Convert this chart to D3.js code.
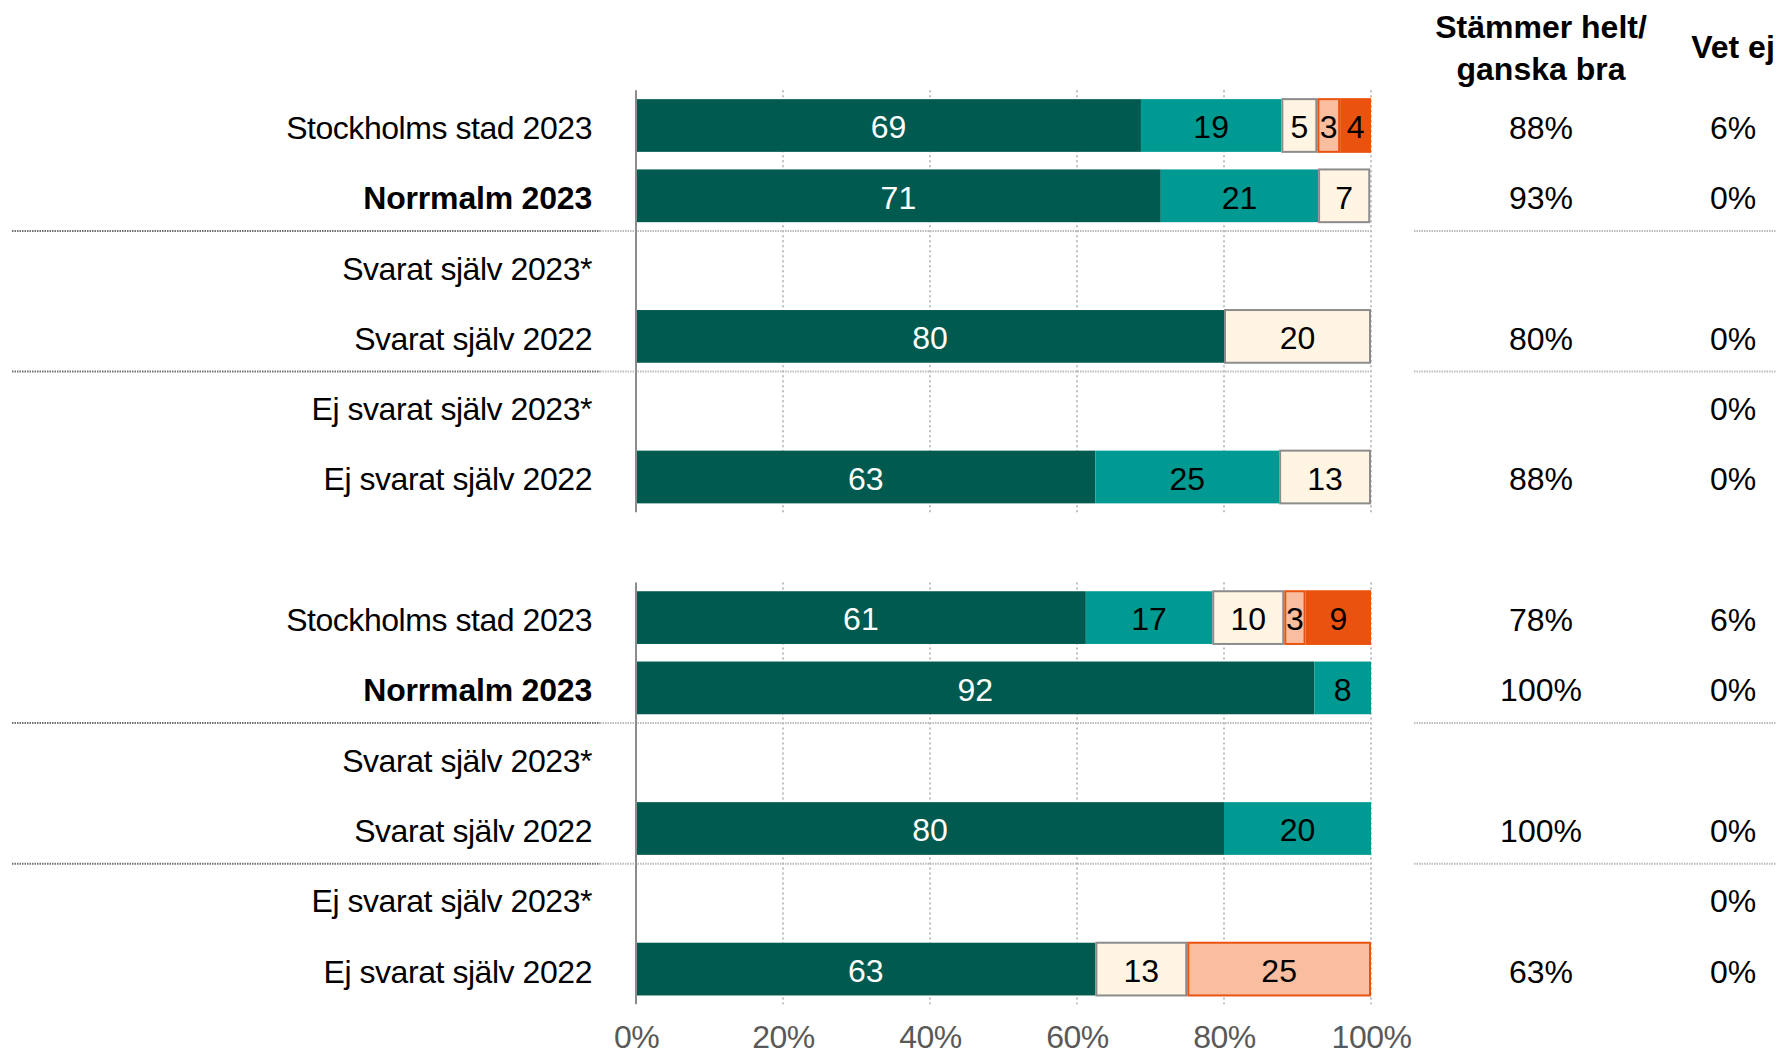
<!DOCTYPE html>
<html>
<head>
<meta charset="utf-8">
<script src="https://cdn.jsdelivr.net/npm/d3@7"></script>
<style>
  html, body { margin: 0; padding: 0; background: #fff; }
  svg { display: block; font-family: "Liberation Sans", Arial, sans-serif; }
</style>
</head>
<body>
<svg id="chart" width="1776" height="1055"></svg>
<script>
// ---------- data ----------
const categories = ["Stockholms stad 2023", "Norrmalm 2023", "Svarat själv 2023*", "Svarat själv 2022", "Ej svarat själv 2023*", "Ej svarat själv 2022"];
const boldRows = ["Norrmalm 2023"];
const seriesNames = ["Stämmer helt", "Stämmer ganska bra", "Varken eller", "Stämmer ganska dåligt", "Stämmer inte alls"];

// group 1
const helt1    = [68.7, 71.4, null, 80, null, 62.5];
const ganska1  = [19.1, 21.4, null, 0,  null, 25];
const varken1  = [4.9,  7.1,  null, 20, null, 12.5];
const daligt1  = [3.1,  0,    null, 0,  null, 0];
const inte1    = [4.2,  0,    null, 0,  null, 0];
const total1   = ["88%", "93%", "", "80%", "", "88%"];
const vetej1   = ["6%", "0%", "", "0%", "0%", "0%"];

// group 2
const helt2    = [61.2, 92.3, null, 80, null, 62.5];
const ganska2  = [17.2, 7.7,  null, 20, null, 0];
const varken2  = [9.8,  0,    null, 0,  null, 12.5];
const daligt2  = [2.9,  0,    null, 0,  null, 25];
const inte2    = [8.9,  0,    null, 0,  null, 0];
const total2   = ["78%", "100%", "", "100%", "", "63%"];
const vetej2   = ["6%", "0%", "", "0%", "0%", "0%"];

const tickValues = [0, 20, 40, 60, 80, 100];
const headerTotal = ["Stämmer helt/", "ganska bra"];
const headerVetej = "Vet ej";

// ---------- styles ----------
const fills   = ["#005A4F", "#009A92", "#FFF5E2", "#F8BE9F", "#E9530F"];
const strokes = ["#005A4F", "#009A92", "#8C8C8C", "#E9530F", "#E9530F"];
const textCol = ["#ffffff", "#000000", "#000000", "#000000", "#000000"];

const svg = d3.select("#chart");

const groups = [
  { series: [helt1, ganska1, varken1, daligt1, inte1], total: total1, vetej: vetej1 },
  { series: [helt2, ganska2, varken2, daligt2, inte2], total: total2, vetej: vetej2 }
];

// row keys: 6 rows, gap, 6 rows
const rowKeys = [];
groups.forEach((g, gi) => {
  categories.forEach((c, ci) => rowKeys.push(gi + "|" + ci));
  if (gi === 0) rowKeys.push("gap");
});

const y = d3.scaleBand()
  .domain(rowKeys)
  .range([90.35, 90.35 + 13 * 70.3])
  .paddingInner(0.25)
  .paddingOuter(0.125);

const x = d3.scaleLinear().domain([0, 100]).range([636, 1371]);

const colTotalX = 1541;
const colVetejX = 1733;
const labelRightX = 592;
const fs = 32;

const step = y.step();
const bw = y.bandwidth();

// separators & gridlines & axis per group
groups.forEach((g, gi) => {
  const firstKey = gi + "|0", lastKey = gi + "|" + (categories.length - 1);
  const top = y(firstKey) - y.paddingOuter() * step;
  const bottom = y(lastKey) + bw + y.paddingOuter() * step;

  // gridlines
  svg.append("g").selectAll("line")
    .data(tickValues.filter(v => v > 0))
    .join("line")
    .attr("x1", d => x(d)).attr("x2", d => x(d))
    .attr("y1", top).attr("y2", bottom)
    .attr("stroke", "#BFBFBF").attr("stroke-width", 2)
    .attr("stroke-dasharray", "2,3");

  // separators between row 1/2 and 3/4
  [2, 4].forEach(ri => {
    const yy = y(gi + "|" + ri) - y.paddingInner() * step / 2;
    svg.append("line")
      .attr("x1", 12).attr("x2", 600).attr("y1", yy).attr("y2", yy)
      .attr("stroke", "#707070").attr("stroke-width", 2).attr("stroke-dasharray", "1.5,1");
    svg.append("line")
      .attr("x1", 600).attr("x2", x(100)).attr("y1", yy).attr("y2", yy)
      .attr("stroke", "#BDBDBD").attr("stroke-width", 2).attr("stroke-dasharray", "1.5,1");
    svg.append("line")
      .attr("x1", 1414).attr("x2", 1776).attr("y1", yy).attr("y2", yy)
      .attr("stroke", "#BDBDBD").attr("stroke-width", 2).attr("stroke-dasharray", "1.5,1");
  });

  // bars
  categories.forEach((c, ci) => {
    const key = gi + "|" + ci;
    const vals = g.series.map(s => s[ci]);
    if (vals[0] === null) return;
    let acc = 0;
    const segs = vals.map((v, si) => { const s = { v, si, x0: acc }; acc += v; s.x1 = acc; return s; })
      .filter(s => s.v > 0);
    const row = svg.append("g");
    row.selectAll("rect").data(segs).join("rect")
      .attr("x", d => x(d.x0) + (d.si >= 2 ? 1 : 0))
      .attr("y", y(key))
      .attr("width", d => x(d.x1) - x(d.x0) - (d.si >= 2 ? 2 : 0))
      .attr("height", bw)
      .attr("fill", d => fills[d.si])
      .attr("stroke", d => d.si >= 2 ? strokes[d.si] : "none")
      .attr("stroke-width", 2);
    row.selectAll("text").data(segs).join("text")
      .attr("x", d => x((d.x0 + d.x1) / 2))
      .attr("y", y(key) + bw / 2)
      .attr("dy", "0.4em")
      .attr("text-anchor", "middle")
      .attr("font-size", fs)
      .attr("fill", d => textCol[d.si])
      .text(d => Math.round(d.v));
  });

  // axis line
  svg.append("line")
    .attr("x1", x(0)).attr("x2", x(0))
    .attr("y1", top).attr("y2", bottom)
    .attr("stroke", "#8C8C8C").attr("stroke-width", 2);

  // category labels
  categories.forEach((c, ci) => {
    const key = gi + "|" + ci;
    const isBold = boldRows.includes(c);
    svg.append("text")
      .attr("x", labelRightX)
      .attr("y", y(key) + bw / 2)
      .attr("dy", "0.42em")
      .attr("text-anchor", "end")
      .attr("font-size", fs)
      .attr("font-weight", isBold ? "bold" : "normal")
      .attr("letter-spacing", isBold ? "-0.2" : "-0.45")
      .attr("fill", "#000")
      .text(c);
    svg.append("text")
      .attr("x", colTotalX).attr("y", y(key) + bw / 2).attr("dy", "0.42em")
      .attr("text-anchor", "middle").attr("font-size", fs).attr("fill", "#000")
      .text(g.total[ci]);
    svg.append("text")
      .attr("x", colVetejX).attr("y", y(key) + bw / 2).attr("dy", "0.42em")
      .attr("text-anchor", "middle").attr("font-size", fs).attr("fill", "#000")
      .text(g.vetej[ci]);
  });
});

// bottom axis tick labels
const axisG = svg.append("g")
  .attr("transform", "translate(0,1025)")
  .call(d3.axisBottom(x).tickValues(tickValues).tickFormat(d => d + "%").tickSize(0));
axisG.select(".domain").remove();
axisG.selectAll("text")
  .attr("font-size", fs)
  .attr("font-family", "Liberation Sans, Arial, sans-serif")
  .attr("letter-spacing", "-0.5")
  .attr("fill", "#595959")
  .attr("dy", "0.71em")
  .attr("y", 0);

// headers
svg.append("text")
  .attr("x", colTotalX).attr("y", 26).attr("dy", "0.36em")
  .attr("text-anchor", "middle").attr("font-size", fs).attr("font-weight", "bold")
  .text(headerTotal[0]);
svg.append("text")
  .attr("x", colTotalX).attr("y", 68).attr("dy", "0.36em")
  .attr("text-anchor", "middle").attr("font-size", fs).attr("font-weight", "bold")
  .text(headerTotal[1]);
svg.append("text")
  .attr("x", colVetejX).attr("y", 46).attr("dy", "0.36em")
  .attr("text-anchor", "middle").attr("font-size", fs).attr("font-weight", "bold")
  .text(headerVetej);
</script>
</body>
</html>
